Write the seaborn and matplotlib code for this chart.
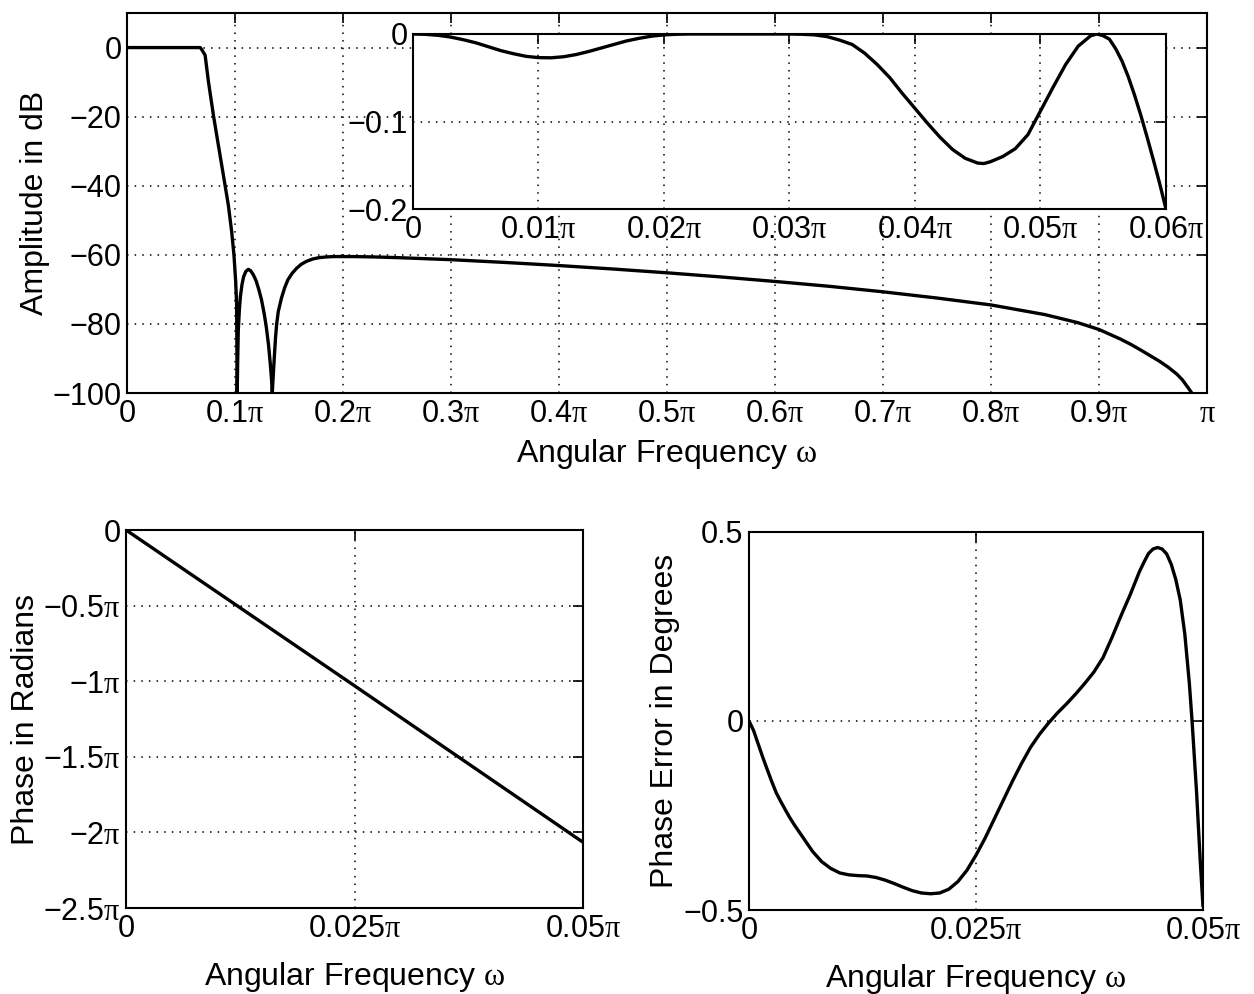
import matplotlib
matplotlib.use("Agg")
import matplotlib.pyplot as plt
import seaborn as sns

# magnitude response over the whole band (frequency in units of pi, dB)
amp_w = [0, 0.02, 0.04, 0.06, 0.0677, 0.069, 0.0723, 0.0754, 0.080, 0.0846,
         0.0892, 0.0938, 0.0969, 0.099, 0.1006, 0.1015, 0.102,
         0.1025, 0.103, 0.104, 0.105, 0.1065, 0.108, 0.110, 0.1123, 0.1145,
         0.117, 0.1195, 0.122, 0.1245, 0.127, 0.129, 0.131, 0.1325, 0.1338,
         0.1345, 0.135, 0.1365, 0.1375, 0.1385, 0.140, 0.143, 0.146, 0.149,
         0.153, 0.157, 0.161, 0.166, 0.172, 0.178, 0.185, 0.191, 0.2, 0.209,
         0.228, 0.25, 0.3, 0.35, 0.4, 0.45, 0.5, 0.55, 0.6, 0.65, 0.7, 0.75,
         0.8, 0.85, 0.88, 0.9, 0.92, 0.93, 0.94, 0.956, 0.964, 0.972, 0.977,
         0.981, 0.986]
amp_db = [0, 0, 0, 0, 0, -0.5, -2.2, -9.9, -19.6, -28.3,
          -36.9, -45.6, -53.3, -60, -67.7, -74.5, -100,
          -90, -82, -76, -72, -68.5, -66.3, -64.8, -64.2, -64.6,
          -65.8, -67.5, -70, -73, -77, -81, -86, -91, -96,
          -100, -97, -89, -84, -80.2, -76.5, -72.5, -69.5, -67.2,
          -65.3, -63.9, -62.8, -61.9, -61.2, -60.8, -60.6, -60.5, -60.5, -60.5,
          -60.6, -60.8, -61.4, -62.2, -63.1, -64.1, -65.2, -66.4, -67.7, -69.1, -70.7, -72.5,
          -74.5, -77.3, -79.6, -81.6, -84.4, -86.0, -87.8, -90.8, -92.5, -94.5, -96.1,
          -97.8, -100]

# passband detail (inset)
pass_w = [0, 0.001, 0.002, 0.003, 0.004, 0.005, 0.006, 0.007, 0.008, 0.009,
          0.010, 0.011, 0.012, 0.013, 0.014, 0.015, 0.016, 0.017, 0.018, 0.019,
          0.020, 0.021, 0.022, 0.026, 0.030, 0.031, 0.032, 0.033, 0.034, 0.035,
          0.036, 0.037, 0.038, 0.039, 0.040, 0.041, 0.042, 0.043, 0.044, 0.045,
          0.0455, 0.046, 0.047, 0.048, 0.049, 0.050, 0.051, 0.052, 0.053, 0.054,
          0.0545, 0.055, 0.0555, 0.056, 0.0565, 0.057, 0.0575, 0.058, 0.0585,
          0.059, 0.0595, 0.060]
pass_db = [0, -0.0004, -0.0015, -0.0035, -0.0065, -0.010, -0.0145, -0.019, -0.0225, -0.0255,
           -0.027, -0.0272, -0.026, -0.0235, -0.020, -0.016, -0.012, -0.008, -0.005, -0.0025,
           -0.001, -0.0003, 0, 0, 0, -0.0003, -0.001, -0.003, -0.007, -0.012,
           -0.022, -0.035, -0.050, -0.068, -0.085, -0.102, -0.118, -0.132, -0.142, -0.1475,
           -0.148, -0.146, -0.140, -0.131, -0.115, -0.088, -0.061, -0.035, -0.014, -0.002,
           0, -0.002, -0.006, -0.017, -0.031, -0.049, -0.070, -0.093, -0.118,
           -0.144, -0.171, -0.2]

# phase (units of pi)
phase_w = [0, 0.025, 0.05]
phase_pi = [0, -1.03, -2.065]

# phase error in degrees
err_w = [0, 0.0005, 0.001, 0.0015, 0.002, 0.0025, 0.003, 0.0035, 0.004, 0.0045,
         0.005, 0.006, 0.007, 0.008, 0.009, 0.010, 0.011, 0.012, 0.013, 0.014,
         0.015, 0.016, 0.017, 0.018, 0.019, 0.020, 0.021, 0.022, 0.023, 0.024,
         0.025, 0.026, 0.027, 0.028, 0.029, 0.030, 0.031, 0.032, 0.033, 0.034,
         0.035, 0.036, 0.037, 0.038, 0.039, 0.040, 0.041, 0.042, 0.043, 0.0435,
         0.044, 0.0445, 0.045, 0.0455, 0.046, 0.0465, 0.047, 0.0475, 0.048,
         0.0485, 0.0488, 0.0493, 0.0497, 0.050]
err_deg = [0, -0.025, -0.06, -0.095, -0.128, -0.16, -0.19, -0.213, -0.235, -0.256,
           -0.275, -0.31, -0.345, -0.372, -0.39, -0.402, -0.407, -0.409, -0.41, -0.414,
           -0.421, -0.43, -0.44, -0.449, -0.455, -0.457, -0.455, -0.445, -0.425, -0.395,
           -0.355, -0.31, -0.26, -0.21, -0.16, -0.113, -0.07, -0.035, -0.005, 0.022,
           0.046, 0.072, 0.1, 0.13, 0.168, 0.222, 0.28, 0.335, 0.395, 0.42,
           0.443, 0.455, 0.459, 0.455, 0.442, 0.415, 0.375, 0.32, 0.23,
           0.10, 0.0, -0.19, -0.37, -0.49]

main_xticks = [0, 0.1, 0.2, 0.3, 0.4, 0.5, 0.6, 0.7, 0.8, 0.9, 1.0]
main_xlabels = ["0"] + [r"0.%d$\pi$" % i for i in range(1, 10)] + [r"$\pi$"]
main_yticks = [0, -20, -40, -60, -80, -100]
inset_xticks = [0, 0.01, 0.02, 0.03, 0.04, 0.05, 0.06]
inset_xlabels = ["0"] + [r"0.0%d$\pi$" % i for i in range(1, 7)]
inset_yticks = [0, -0.1, -0.2]
low_xticks = [0, 0.025, 0.05]
low_xlabels = ["0", r"0.025$\pi$", r"0.05$\pi$"]
phase_yticks = [0, -0.5, -1, -1.5, -2, -2.5]
phase_ylabels = ["0", "\u22120.5$\\pi$", "\u22121$\\pi$", "\u22121.5$\\pi$",
                 "\u22122$\\pi$", "\u22122.5$\\pi$"]
err_yticks = [0.5, 0, -0.5]

sns.set_theme(style="white")
plt.rcParams["font.family"] = ["Liberation Sans", "DejaVu Sans"]
plt.rcParams["mathtext.fontset"] = "custom"
plt.rcParams["mathtext.rm"] = "Liberation Serif"
plt.rcParams["mathtext.it"] = "Liberation Serif"
plt.rcParams["mathtext.sf"] = "Liberation Sans"
plt.rcParams["axes.unicode_minus"] = True
plt.rcParams["text.color"] = "black"
plt.rcParams["axes.labelcolor"] = "black"

FS = 22
LFS = 23


def style(ax, xt, xl, yt, yl, xlim, ylim):
    ax.set_xlim(*xlim)
    ax.set_ylim(*ylim)
    ax.set_xticks(xt)
    ax.set_xticklabels(xl, fontsize=FS)
    ax.set_yticks(yt)
    ax.set_yticklabels(yl, fontsize=FS)
    ax.tick_params(direction="in", top=True, right=True, length=7, width=1.2,
                   color="black", labelcolor="black", pad=4)
    ax.grid(True, color="black", linestyle=(0, (1, 4)), linewidth=1.1)
    for s in ax.spines.values():
        s.set_color("black")
        s.set_linewidth(1.5)
    ax.set_facecolor("white")


fig = plt.figure(figsize=(12.54, 9.94), dpi=100)

# top: whole-band amplitude
ax1 = fig.add_axes([0.1013, 0.6046, 0.8612, 0.3823])
sns.lineplot(x=amp_w, y=amp_db, ax=ax1, color="black", linewidth=2.4,
             estimator=None, sort=False)
style(ax1, main_xticks, main_xlabels, main_yticks,
      [str(v).replace("-", "\u2212") for v in main_yticks], (0, 1), (-100, 10))
ax1.set_xlabel(r"Angular Frequency $\omega$", fontsize=LFS, labelpad=6)
ax1.set_ylabel("Amplitude in dB", fontsize=LFS, labelpad=2)

# inset: passband detail
ax2 = fig.add_axes([0.3293, 0.7897, 0.6005, 0.1761])
sns.lineplot(x=pass_w, y=pass_db, ax=ax2, color="black", linewidth=2.4,
             estimator=None, sort=False)
style(ax2, inset_xticks, inset_xlabels, inset_yticks,
      ["0", "\u22120.1", "\u22120.2"], (0, 0.06), (-0.2, 0))
ax2.set_zorder(5)

# bottom left: phase
ax3 = fig.add_axes([0.1005, 0.0865, 0.3644, 0.3803])
sns.lineplot(x=phase_w, y=phase_pi, ax=ax3, color="black", linewidth=2.4,
             estimator=None, sort=False)
style(ax3, low_xticks, low_xlabels, phase_yticks, phase_ylabels,
      (0, 0.05), (-2.5, 0))
ax3.set_xlabel(r"Angular Frequency $\omega$", fontsize=LFS, labelpad=12)
ax3.set_ylabel("Phase in Radians", fontsize=LFS, labelpad=2)

# bottom right: phase error
ax4 = fig.add_axes([0.5973, 0.0845, 0.3620, 0.3803])
sns.lineplot(x=err_w, y=err_deg, ax=ax4, color="black", linewidth=2.4,
             estimator=None, sort=False)
style(ax4, low_xticks, low_xlabels, err_yticks,
      ["0.5", "0", "\u22120.5"], (0, 0.05), (-0.5, 0.5))
ax4.set_xlabel(r"Angular Frequency $\omega$", fontsize=LFS, labelpad=12)
ax4.set_ylabel("Phase Error in Degrees", fontsize=LFS, labelpad=2)

fig.savefig("out.png", dpi=100, facecolor="white")
